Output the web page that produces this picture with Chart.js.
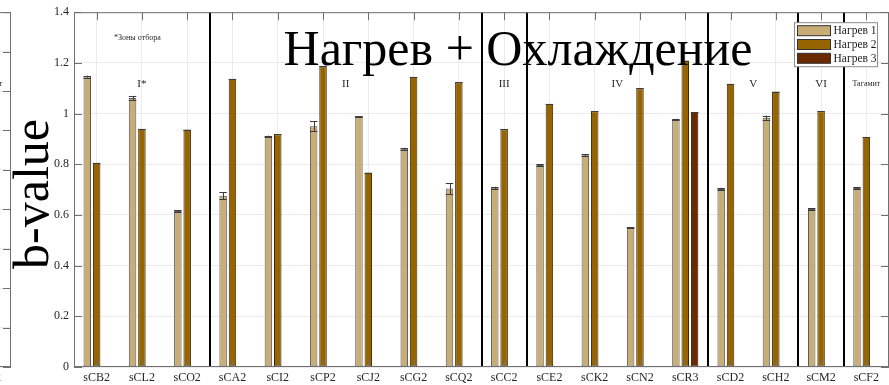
<!DOCTYPE html>
<html>
<head>
<meta charset="utf-8">
<script src="https://cdn.jsdelivr.net/npm/chart.js@4.4.0/dist/chart.umd.min.js"></script>
<style>
  html, body { margin: 0; padding: 0; background: #fff; overflow: hidden; }
  #wrap { position: relative; width: 889px; height: 385px; overflow: hidden; background: #fff; }
  #side { position: absolute; left: -878px; top: 0; }
  #main { position: absolute; left: 0; top: 0; }
</style>
</head>
<body>
<div id="wrap">
  <canvas id="side" width="889" height="385"></canvas>
  <canvas id="main" width="889" height="385"></canvas>
</div>
<script>
// Sampling points
const categories = ['sCB2', 'sCL2', 'sCO2', 'sCA2', 'sCI2', 'sCP2', 'sCJ2', 'sCG2', 'sCQ2',
                    'sCC2', 'sCE2', 'sCK2', 'sCN2', 'sCR3', 'sCD2', 'sCH2', 'sCM2', 'sCF2'];

// b-value per heating run
const heat1 = [1.146, 1.061, 0.616, 0.676, 0.911, 0.950, 0.988, 0.861, 0.704,
               0.707, 0.797, 0.836, 0.549, 0.976, 0.702, 0.984, 0.623, 0.706];
const heat2 = [0.806, 0.940, 0.937, 1.137, 0.918, 1.186, 0.767, 1.145, 1.123,
               0.938, 1.039, 1.009, 1.100, 1.209, 1.118, 1.087, 1.009, 0.908];
const heat3 = [0, 0, 0, 0, 0, 0, 0, 0, 0,
               0, 0, 0, 0, 1.006, 0, 0, 0, 0];

// half-width of the error bars
const err1 = [0.004, 0.009, 0.003, 0.013, 0.002, 0.020, 0.002, 0.004, 0.022,
              0.004, 0.003, 0.003, 0.002, 0.003, 0.005, 0.008, 0.004, 0.005];
const err2 = [0, 0, 0, 0, 0, 0, 0, 0, 0, 0, 0, 0, 0, 0, 0, 0, 0, 0];
const err3 = [0, 0, 0, 0, 0, 0, 0, 0, 0, 0, 0, 0, 0, 0, 0, 0, 0, 0];

const seriesNames = ['Нагрев 1', 'Нагрев 2', 'Нагрев 3'];

// sampling zones: name, first and last category index
const zoneNames = ['I*', 'II', 'III', 'IV', 'V', 'VI', 'Тагамит'];
const zoneFirst = [0, 3, 9, 10, 14, 16, 17];
const zoneLast  = [2, 8, 9, 13, 15, 16, 17];

const yMin = 0, yMax = 1.4, yStep = 0.2;
const sideYMax = 1.8;

const titleText = 'Нагрев + Охлаждение';
const yTitleText = 'b-value';
const zoneNote = '*Зоны отбора';

const SERIF = '"Liberation Serif", "DejaVu Serif", serif';
const fills = ['#c9ad76', '#966400', '#6b2900'];
const edges = ['#5a5a5a', '#3b2800', '#2a0f00'];

function line(ctx, x1, y1, x2, y2) {
  ctx.beginPath(); ctx.moveTo(x1, y1); ctx.lineTo(x2, y2); ctx.stroke();
}

// Zone separators, error bars, axes box with inward ticks
const boxPlugin = {
  id: 'matlabBox',
  afterDatasetsDraw(chart) {
    const { ctx, chartArea: a, scales: { x, y } } = chart;
    ctx.save();

    // error bars
    chart.data.datasets.forEach((ds, di) => {
      const meta = chart.getDatasetMeta(di);
      if (!ds.errors) return;
      meta.data.forEach((bar, i) => {
        const v = ds.data[i], e = ds.errors[i];
        if (v === undefined || v === null) return;
        const { x: bx, width: bw } = bar.getProps(['x', 'width'], true);
        const yt = y.getPixelForValue(v + e), yb = y.getPixelForValue(Math.max(v - e, yMin));
        const half = bw / 2;
        ctx.strokeStyle = v === 0 ? '#8a8a8a' : '#3c3c3c';
        ctx.lineWidth = 1;
        const cx = Math.round(bx) + 0.5;
        if (e > 0) line(ctx, cx, yt, cx, yb);
        const capY = Math.round(yt) + 0.5 - (v === 0 ? 1 : 0);
        line(ctx, bx - half, capY, bx + half, capY);
        if (e > 0) line(ctx, bx - half, Math.round(yb) + 0.5, bx + half, Math.round(yb) + 0.5);
      });
    });

    // separators between sampling zones
    ctx.strokeStyle = '#000';
    ctx.lineWidth = 2;
    zoneLast.slice(0, -1).forEach(i => {
      const px = Math.round((x.getPixelForValue(i) + x.getPixelForValue(i + 1)) / 2);
      line(ctx, px, a.top, px, a.bottom);
    });

    // box and inward ticks
    ctx.strokeStyle = '#707070';
    ctx.lineWidth = 1;
    ctx.strokeRect(a.left + 0.5, a.top + 0.5, a.right - a.left - 1, a.bottom - a.top - 1);
    const tl = 8;
    y.ticks.forEach((t, i) => {
      const py = Math.round(y.getPixelForTick(i)) + 0.5;
      line(ctx, a.left, py, a.left + tl, py);
      line(ctx, a.right - tl, py, a.right, py);
    });
    x.ticks.forEach((t, i) => {
      const px = Math.round(x.getPixelForTick(i)) + 0.5;
      line(ctx, px, a.top, px, a.top + tl);
      line(ctx, px, a.bottom - tl, px, a.bottom);
    });
    ctx.restore();
  }
};

// Zone names over the groups and the boxed legend
const annotPlugin = {
  id: 'zonesLegend',
  afterDraw(chart) {
    const { ctx, chartArea: a, scales: { x } } = chart;
    ctx.save();
    ctx.fillStyle = '#262626';
    ctx.textAlign = 'center';
    ctx.textBaseline = 'alphabetic';
    zoneNames.forEach((name, k) => {
      const px = (x.getPixelForValue(zoneFirst[k]) + x.getPixelForValue(zoneLast[k])) / 2;
      const small = name.length > 3;
      ctx.font = (small ? '8px ' : '11px ') + SERIF;
      ctx.fillText(name, px, a.top + (small ? 73.5 : 74.5));
    });
    ctx.font = '8px ' + SERIF;
    ctx.fillText(zoneNote, x.getPixelForValue(1) - 4.5, a.top + 28);

    // legend
    const bw = 83, bh = 44;
    const bx = a.right - 11.5 - bw, by = a.top + 10.5;
    ctx.fillStyle = '#fff';
    ctx.fillRect(bx, by, bw, bh);
    ctx.strokeStyle = '#8c8c8c';
    ctx.lineWidth = 1;
    ctx.strokeRect(bx, by, bw, bh);
    ctx.textAlign = 'left';
    ctx.textBaseline = 'middle';
    ctx.font = '11.5px ' + SERIF;
    chart.data.datasets.forEach((ds, i) => {
      const ry = by + 3 + i * 13.8;
      ctx.fillStyle = ds.backgroundColor;
      ctx.fillRect(bx + 3, ry, 33, 10);
      ctx.strokeStyle = '#333';
      ctx.strokeRect(bx + 3, ry, 33, 10);
      ctx.fillStyle = '#1a1a1a';
      ctx.fillText(ds.label, bx + 39, ry + 5.5);
    });
    ctx.restore();
  }
};

// Large overlay captions
const captionPlugin = {
  id: 'captions',
  afterDraw(chart) {
    const { ctx } = chart;
    ctx.save();
    ctx.fillStyle = '#000';
    ctx.textAlign = 'center';
    ctx.textBaseline = 'alphabetic';
    ctx.font = '50px ' + SERIF;
    ctx.fillText(titleText, 518, 65);
    ctx.translate(48, 194);
    ctx.rotate(-Math.PI / 2);
    ctx.font = '50px ' + SERIF;
    ctx.fillText(yTitleText, 0, 0);
    ctx.restore();
  }
};

function buildConfig(series, maxY, withCaptions) {
  return {
    type: 'bar',
    data: {
      labels: categories,
      datasets: series.map((s, i) => ({
        label: seriesNames[i],
        data: s.values,
        errors: s.errors,
        backgroundColor: fills[i],
        borderColor: edges[i],
        borderWidth: 1,
        borderSkipped: false,
        categoryPercentage: 0.62,
        barPercentage: 0.8
      }))
    },
    options: {
      responsive: false,
      animation: false,
      devicePixelRatio: 1,
      layout: { padding: { top: 11, right: 0, left: 0, bottom: 0 } },
      plugins: { legend: { display: false }, tooltip: { enabled: false }, title: { display: false } },
      scales: {
        x: {
          offset: true,
          grid: { offset: false, color: '#ebebeb', drawTicks: false },
          border: { display: false },
          ticks: { font: { family: SERIF, size: 12 }, color: '#262626', padding: 4,
                   maxRotation: 0, autoSkip: false },
          afterFit: s => { s.height = 18; }
        },
        y: {
          min: yMin, max: maxY,
          grid: { color: '#ebebeb', drawTicks: false },
          border: { display: false },
          ticks: { stepSize: yStep, padding: 5, font: { family: SERIF, size: 12 }, color: '#262626',
                   callback: v => String(Number(v.toFixed(1))) },
          afterFit: s => { s.width = 74; }
        }
      }
    },
    plugins: withCaptions ? [boxPlugin, annotPlugin, captionPlugin] : [boxPlugin, annotPlugin]
  };
}

// neighbouring panel, only its right edge shows
new Chart(document.getElementById('side'), buildConfig(
  [{ values: [], errors: [] }, { values: [], errors: [] }, { values: [], errors: [] }], sideYMax, false));

new Chart(document.getElementById('main'), buildConfig(
  [{ values: heat1, errors: err1 }, { values: heat2, errors: err2 }, { values: heat3, errors: err3 }], yMax, true));
</script>
</body>
</html>
